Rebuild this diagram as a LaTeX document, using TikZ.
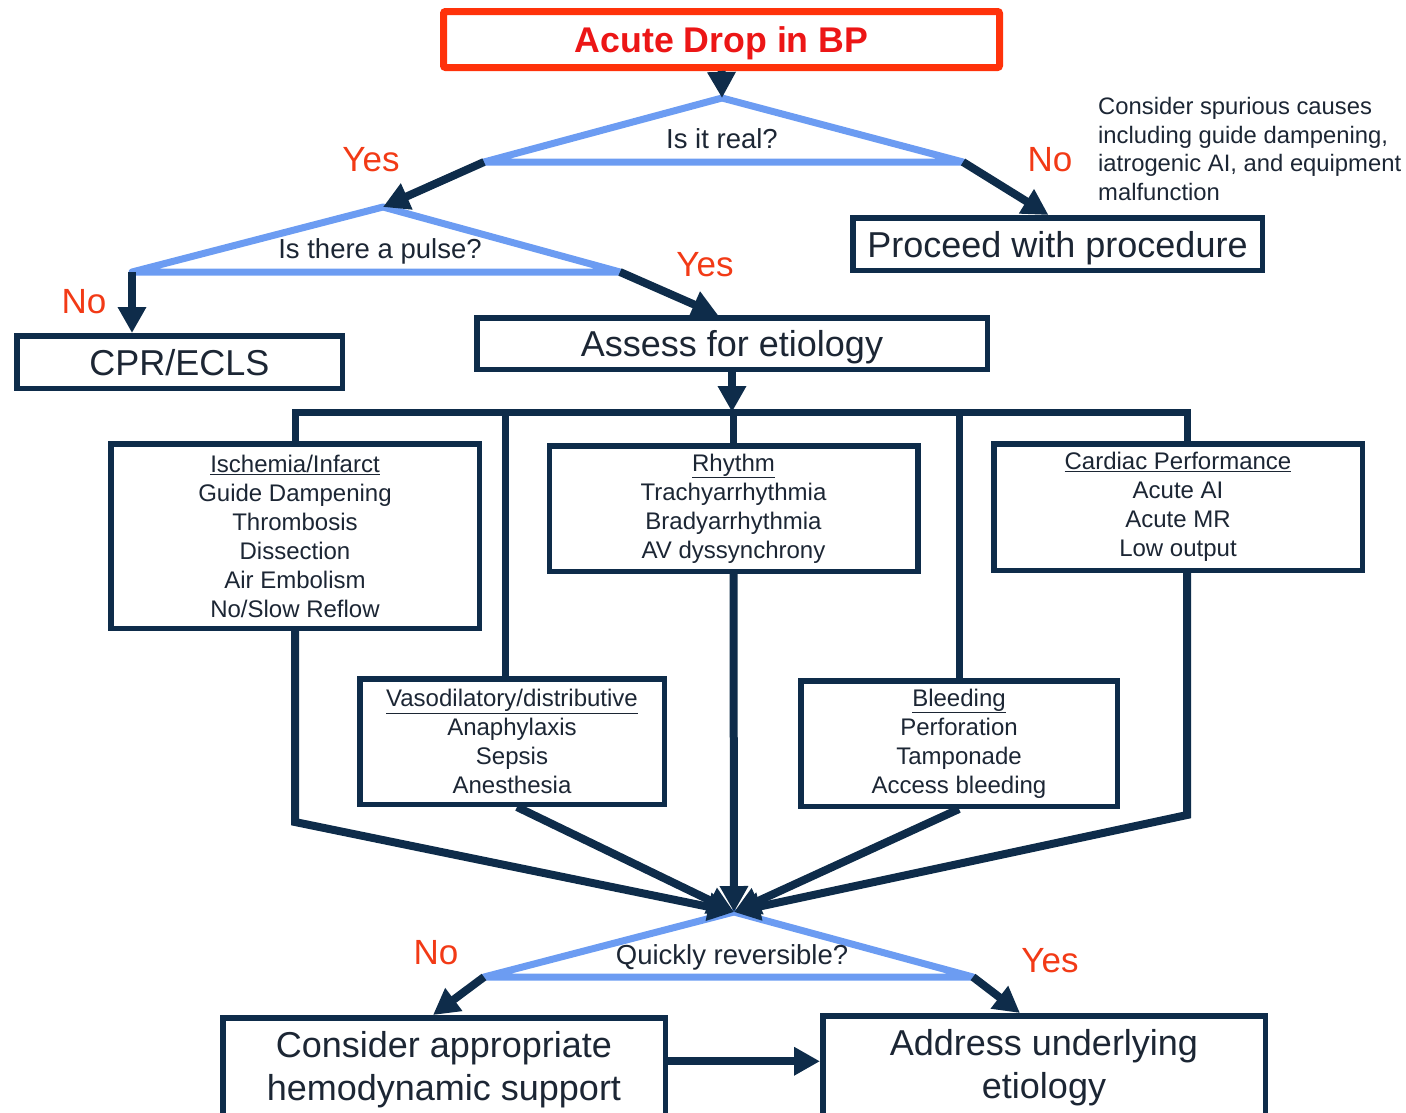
\documentclass[tikz,border=0pt]{standalone}
\usepackage{fontspec}
\setmainfont{Liberation Sans}
\usepackage{tikz}
\usetikzlibrary{calc}
\usetikzlibrary{arrows.meta}

\definecolor{navy}{RGB}{14,44,74}
\definecolor{ink}{RGB}{28,38,52}
\definecolor{blu}{RGB}{108,156,242}
\definecolor{rosso}{RGB}{255,50,10}
\definecolor{rossotxt}{RGB}{236,22,22}
\definecolor{sino}{RGB}{242,58,22}

\begin{document}
\begin{tikzpicture}[
        x=1pt, y=-1pt,
        line join=miter,
        box/.style={draw=navy, line width=5.5pt, fill=white, text=ink, inner sep=0pt, align=center, font=\fontsize{24}{29}\selectfont},
        bigbox/.style={box, font=\fontsize{36}{43}\selectfont},
        dec/.style={draw=blu, line width=7pt, line join=round},
        dectxt/.style={text=ink, inner sep=0pt, font=\fontsize{27.5}{32}\selectfont},
        ans/.style={text=sino, inner sep=0pt, font=\fontsize{35}{40}\selectfont},
        arr/.style={draw=navy, line width=8pt, -{Triangle[width=27pt,length=26pt]}},
        con/.style={draw=navy, line width=7pt}
    ]
        \useasboundingbox (0,0) rectangle (1406,1112);
        \clip (0,0) rectangle (1406,1112);

        % partenza
        \node[draw=rosso, line width=7pt, rounded corners=2pt, minimum width=556pt, minimum height=56pt,
              inner sep=0pt, text depth=0pt, text=rossotxt, font=\bfseries\fontsize{35.7}{40}\selectfont]
              (top) at (721.5,39.5) {Acute Drop in BP};

        % prima decisione
        \coordinate (d1a) at (722,98);
        \coordinate (d1l) at (484,162);
        \coordinate (d1r) at (963,162);
        \draw[dec] (d1a) -- (d1l) -- (d1r) -- cycle;
        \node[dectxt] (d1t) at (722,139) {Is it real?};

        % seconda decisione
        \coordinate (d2a) at (383,207);
        \coordinate (d2l) at (132,272);
        \coordinate (d2r) at (620,272);
        \draw[dec] (d2a) -- (d2l) -- (d2r) -- cycle;
        \node[dectxt] (d2t) at (380,251) {Is there a pulse?};

        % terza decisione
        \coordinate (d3a) at (734,912);
        \coordinate (d3l) at (484,977);
        \coordinate (d3r) at (973,977);
        \draw[dec] (d3a) -- (d3l) -- (d3r) -- cycle;
        \node[dectxt] (d3t) at (732,957) {Quickly reversible?};

        % risposte
        \node[ans] (y1) at (371,160) {Yes};
        \node[ans] (n1) at (1050,160) {No};
        \node[ans] (n2) at (84,302) {No};
        \node[ans] (y2) at (705,265) {Yes};
        \node[ans] (n3) at (436,953) {No};
        \node[ans] (y3) at (1050,961) {Yes};

        \node[anchor=north west, text=ink, inner sep=0pt, align=left, font=\fontsize{23.8}{28.7}\selectfont]
              (nota) at (1098,97) {Consider spurious causes\\including guide dampening,\\iatrogenic AI, and equipment\\malfunction};

        % scatole
        \node[bigbox, text depth=0pt, minimum width=409.5pt, minimum height=52.5pt] (proc) at (1057.5,244) {Proceed with procedure};
        \node[bigbox, text depth=0pt, minimum width=325.5pt, minimum height=52.5pt] (cpr) at (179.5,362) {CPR/ECLS};
        \node[bigbox, text depth=0pt, minimum width=510.5pt, minimum height=51.5pt] (assess) at (732,343.5) {Assess for etiology};

        \node[box, minimum width=368.5pt, minimum height=184.5pt] (isch) at (295,536)
              {\underline{Ischemia/Infarct}\\Guide Dampening\\Thrombosis\\Dissection\\Air Embolism\\No/Slow Reflow};
        \node[box, minimum width=368.5pt, minimum height=125.5pt] (rhythm) at (733.5,508.5)
              {\underline{Rhythm}\\Trachyarrhythmia\\Bradyarrhythmia\\AV dyssynchrony};
        \node[box, minimum width=368.5pt, minimum height=126.5pt] (card) at (1178,507)
              {\underline{Cardiac Performance}\\Acute AI\\Acute MR\\Low output};
        \node[box, minimum width=304.5pt, minimum height=125.5pt] (vaso) at (512,741.5)
              {\underline{Vasodilatory/distributive}\\Anaphylaxis\\Sepsis\\Anesthesia};
        \node[box, minimum width=316.5pt, minimum height=125.5pt] (bleed) at (959,743.5)
              {\underline{Bleeding}\\Perforation\\Tamponade\\Access bleeding};

        \node[bigbox, minimum width=442.5pt, minimum height=103pt]
              (cons) at (444,1069.25) {Consider appropriate\\hemodynamic support};
        \node[bigbox, minimum width=442.5pt, minimum height=103pt]
              (addr) at (1044,1067.25) {Address underlying\\etiology};

        % frecce in alto
        \draw[arr] (top.south) -- (d1a);
        \draw[arr] (d1l) -- (d2a);
        \draw[arr] (d1r) -- ([xshift=-9pt]proc.north);
        \draw[arr] (d2l) -- (d2l |- cpr.north);
        \draw[arr] (d2r) -- ([xshift=-14pt]assess.north);

        % barra di distribuzione
        \coordinate (busL) at (295,412);
        \coordinate (busR) at (1187,412);
        \coordinate (vtop) at ([xshift=-7pt]vaso.north);
        \draw[arr] (assess.south) -- (assess.south |- busL);
        \draw[con] (isch.north) -- (busL) -- (busR) -- ([xshift=9pt]card.north);
        \draw[con] (vtop) -- (vtop |- busL);
        \draw[con] (rhythm.north) -- (rhythm.north |- busL);
        \draw[con] (bleed.north) -- (bleed.north |- busL);

        % convergenza
        \draw[arr] (isch.south) -- ++(0,191) -- (d3a);
        \draw[arr] ([xshift=5pt]vaso.south) -- (d3a);
        \draw[arr] (rhythm.south) -- (d3a);
        \draw[arr] (bleed.south) -- (d3a);
        \draw[arr] ([xshift=9pt]card.south) -- ++(0,242) -- (d3a);

        % uscite finali
        \draw[arr] (d3l) -- ([xshift=-11pt]cons.north);
        \draw[arr] (d3r) -- ([xshift=-24pt]addr.north);
        \draw[arr] ([yshift=8pt]cons.east) -- ([yshift=6pt]addr.west);
    \end{tikzpicture}
\end{document}
